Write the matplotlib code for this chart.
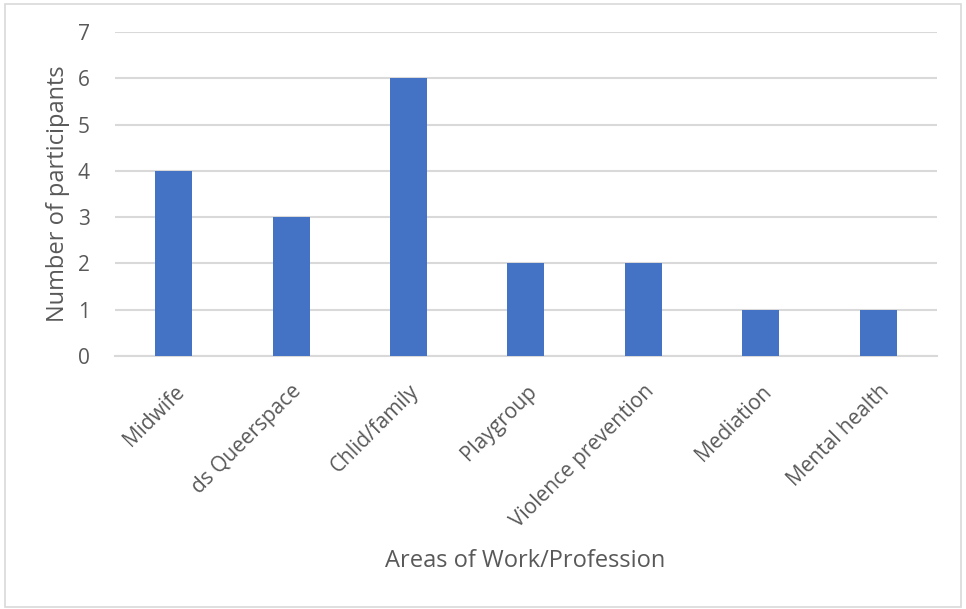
import numpy as np
import matplotlib.pyplot as plt
from matplotlib.patches import Rectangle

categories = ["Midwife", "ds Queerspace", "Chlid/family", "Playgroup",
              "Violence prevention", "Mediation", "Mental health"]
participants = [4, 3, 6, 2, 2, 1, 1]

text_color = "#595959"
plt.rcParams["font.family"] = ["Open Sans", "DejaVu Sans"]

fig = plt.figure(figsize=(9.66, 6.09), dpi=100)
ax = fig.add_axes([0.119, 0.4154, 0.851, 0.5321])

x = np.arange(len(categories))
ax.bar(x, participants, width=0.315, color="#4472C4", zorder=3)

ax.set_xlim(-0.5, len(categories) - 0.5)
ax.set_ylim(0, 7)
ax.set_yticks(range(0, 8))
ax.yaxis.grid(True, color="#D9D9D9", linewidth=1.5, zorder=0)
ax.set_xticks(x)
ax.set_xticklabels(categories, rotation=45, ha="right", rotation_mode="anchor")
ax.tick_params(axis="x", length=0, labelsize=15, colors=text_color, pad=18)
ax.tick_params(axis="y", length=0, labelsize=15, colors=text_color, pad=18)
for side in ["top", "right", "left"]:
    ax.spines[side].set_visible(False)
ax.spines["bottom"].set_color("#D9D9D9")
ax.spines["bottom"].set_linewidth(1.5)

ax.set_ylabel("Number of participants", fontsize=17, color=text_color, labelpad=6)
fig.text(0.544, 0.078, "Areas of Work/Profession", fontsize=17, color=text_color,
         ha="center", va="center")

fig.patches.append(Rectangle((0.005, 0.004), 0.99, 0.99, transform=fig.transFigure,
                             fill=False, edgecolor="#D9D9D9", linewidth=1.2))

fig.savefig("out.png", dpi=100)
